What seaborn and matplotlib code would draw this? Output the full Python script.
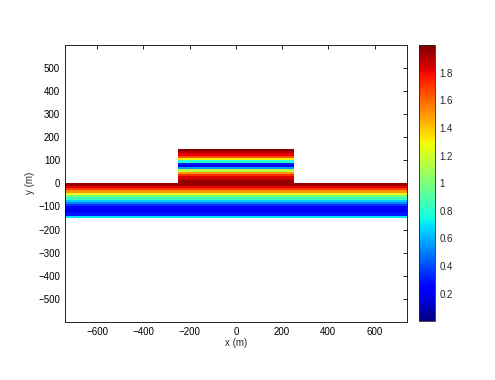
import numpy as np
import matplotlib
matplotlib.use("Agg")
import matplotlib.pyplot as plt
import seaborn as sns

# Lower strip: row centres (m) and field values
strip_y = [-145, -135, -125, -115, -105, -95, -85, -75, -65, -55, -45, -35, -25, -15, -5]
strip_vals = [0.7, 0.3, 0.22, 0.2, 0.25, 0.35, 0.5, 0.65, 0.85, 1.0, 1.25, 1.5, 1.7, 1.82, 1.95]
strip_x = [-740, 740]

# Raised block on top of the strip
block_y = [5, 15, 25, 35, 45, 55, 65, 75, 85, 95, 105, 115, 125, 135, 145]
block_vals = [1.97, 1.92, 1.85, 1.72, 1.5, 1.15, 0.55, 0.2, 0.3, 0.8, 1.3, 1.65, 1.82, 1.92, 1.97]
block_x = [-250, 250]

cbar_ticks = [0.2, 0.4, 0.6, 0.8, 1, 1.2, 1.4, 1.6, 1.8]
x_ticks = [-600, -400, -200, 0, 200, 400, 600]
y_ticks = [-500, -400, -300, -200, -100, 0, 100, 200, 300, 400, 500]

sns.set_theme(style="white")
plt.rcParams['font.family'] = ['Liberation Sans', 'DejaVu Sans']
plt.rcParams['xtick.direction'] = 'in'
plt.rcParams['ytick.direction'] = 'in'

fig = plt.figure(figsize=(4.95, 3.8), dpi=100)
ax = fig.add_axes([0.131, 0.153, 0.691, 0.729])
cax = fig.add_axes([0.846, 0.155, 0.032, 0.726])

dx = 10


def draw_region(xr, yc, vals):
    xe = np.arange(xr[0], xr[1] + dx, dx)
    yc = np.asarray(yc, float)
    ye = np.concatenate([yc - 5, [yc[-1] + 5]])
    z = np.tile(np.asarray(vals, float)[:, None], (1, len(xe) - 1))
    return ax.pcolormesh(xe, ye, z, cmap='jet', vmin=0, vmax=2, shading='flat')


mesh = draw_region(strip_x, strip_y, strip_vals)
draw_region(block_x, block_y, block_vals)

ax.set_xlim(-740, 740)
ax.set_ylim(-600, 600)
ax.set_xticks(x_ticks)
ax.set_yticks(y_ticks)
ax.tick_params(labelsize=7, length=3, width=0.6, top=True, right=True, colors='black')
ax.set_xlabel('x (m)', fontsize=7, labelpad=1)
ax.set_ylabel('y (m)', fontsize=7, labelpad=2)
for s in ax.spines.values():
    s.set_linewidth(0.6)
    s.set_color('black')

cb = fig.colorbar(mesh, cax=cax)
cb.set_ticks(cbar_ticks)
cb.set_ticklabels([f'{t:g}' for t in cbar_ticks])
cb.ax.tick_params(labelsize=7, length=3, width=0.6, direction='in', left=True, right=True)
cb.outline.set_linewidth(0.6)

fig.savefig('out.png', dpi=100)
